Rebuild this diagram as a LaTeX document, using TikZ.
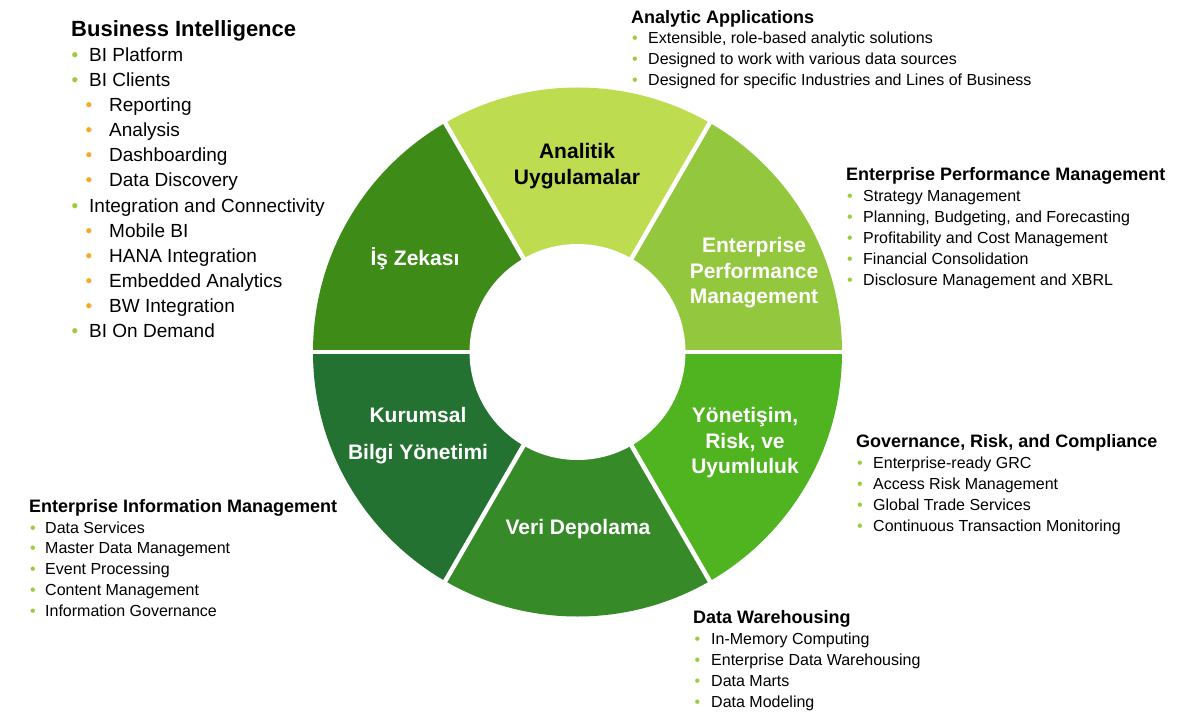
\documentclass[tikz,border=0pt]{standalone}
\usepackage{fontspec}
\setmainfont{Liberation Sans}
\usetikzlibrary{calc}
\definecolor{cAna}{HTML}{BDDC50}
\definecolor{cEPM}{HTML}{93C83E}
\definecolor{cGRC}{HTML}{50B320}
\definecolor{cDW}{HTML}{368A28}
\definecolor{cEIM}{HTML}{247232}
\definecolor{cBI}{HTML}{3E8B18}
\definecolor{bg}{HTML}{9CCB3B}
\definecolor{bo}{HTML}{F9A825}
\newcommand\bul[3]{\makebox[#2][l]{\hspace{#3}\textcolor{#1}{•}}}
\begin{document}
\begin{tikzpicture}[x=1pt,y=-1pt,
  seg/.style={font=\fontsize{21}{25.5}\selectfont\bfseries, text=white, align=center, inner sep=0pt},
  ttl/.style={font=\fontsize{18}{21}\selectfont\bfseries, anchor=base west, inner sep=0pt},
  itm/.style={font=\fontsize{16}{21}\selectfont, anchor=base west, inner sep=0pt},
  bttl/.style={font=\fontsize{22}{25}\selectfont\bfseries, anchor=base west, inner sep=0pt},
  bitm/.style={font=\fontsize{19}{25}\selectfont, anchor=base west, inner sep=0pt},
  gap/.style={white, line width=4.5pt}]
\useasboundingbox (0,0) rectangle (1183,719);
\fill[white] (0,0) rectangle (1183,719);
\coordinate (C) at (577.5,352);
% ring segments
\begin{scope}
  \clip (C) circle[radius=264.5pt];
  \foreach \a/\col in {0/cEPM,60/cAna,120/cBI,180/cEIM,240/cDW,300/cGRC}
    \fill[\col] (C) -- ($(C)+(\a:400pt)$) -- ($(C)+(\a+30:400pt)$) -- ($(C)+(\a+60:400pt)$) -- cycle;
\end{scope}
\foreach \a in {0,60,...,300}
  \draw[gap] (C) -- ($(C)+(\a:280pt)$);
\fill[white] (C) circle[radius=108pt];
% segment labels
\node[seg, text=black] (sAna) at (577,166) {Analitik\\Uygulamalar};
\node[seg] (sBI) at (415,259) {İş Zekası};
\node[seg] (sEPM) at (754,273) {Enterprise\\Performance\\Management};
\node[seg] (sEIM) at (418,435.5) {Kurumsal\\[11pt]Bilgi Yönetimi};
\node[seg] (sGRC) at (745,443) {Yönetişim,\\Risk, ve\\Uyumluluk};
\node[seg] (sDW) at (578,529) {Veri Depolama};
% Business Intelligence
\node[bttl] (tBI) at (71,37) {Business Intelligence};
\foreach \t/\s [count=\i from 0] in {{BI Platform}/0,{BI Clients}/0,Reporting/1,Analysis/1,Dashboarding/1,{Data Discovery}/1,{Integration and Connectivity}/0,{Mobile BI}/1,{HANA Integration}/1,{Embedded Analytics}/1,{BW Integration}/1,{BI On Demand}/0}{
  \ifnum\s=0
    \node[bitm] (bi\i) at (71,61.5+25.1*\i) {\bul{bg}{18pt}{0.5pt}\t};
  \else
    \node[bitm] (bi\i) at (71,61.5+25.1*\i) {\bul{bo}{38pt}{14.5pt}\t};
  \fi
}
% Analytic Applications
\node[ttl] (tAA) at (631,23.5) {Analytic Applications};
\foreach \t [count=\i from 0] in {{Extensible, role-based analytic solutions},{Designed to work with various data sources},{Designed for specific Industries and Lines of Business}}
  \node[itm] (aa\i) at (631,44+21*\i) {\bul{bg}{17pt}{1pt}\t};
% EPM
\node[ttl] (tEPM) at (846,181) {Enterprise Performance Management};
\foreach \t [count=\i from 0] in {{Strategy Management},{Planning, Budgeting, and Forecasting},{Profitability and Cost Management},{Financial Consolidation},{Disclosure Management and XBRL}}
  \node[itm] (epm\i) at (846,202+21*\i) {\bul{bg}{17pt}{1pt}\t};
% GRC
\node[ttl] (tGRC) at (856,447) {Governance, Risk, and Compliance};
\foreach \t [count=\i from 0] in {{Enterprise-ready GRC},{Access Risk Management},{Global Trade Services},{Continuous Transaction Monitoring}}
  \node[itm] (grc\i) at (856,468+21*\i) {\bul{bg}{17pt}{1pt}\t};
% EIM
\node[ttl] (tEIM) at (29,512) {Enterprise Information Management};
\foreach \t [count=\i from 0] in {{Data Services},{Master Data Management},{Event Processing},{Content Management},{Information Governance}}
  \node[itm] (eim\i) at (29,533+20.8*\i) {\bul{bg}{16pt}{1pt}\t};
% DW
\node[ttl] (tDW) at (693,623) {Data Warehousing};
\foreach \t [count=\i from 0] in {{In-Memory Computing},{Enterprise Data Warehousing},{Data Marts},{Data Modeling}}
  \node[itm] (dw\i) at (693,644+21*\i) {\bul{bg}{18pt}{1.5pt}\t};
\end{tikzpicture}
\end{document}
